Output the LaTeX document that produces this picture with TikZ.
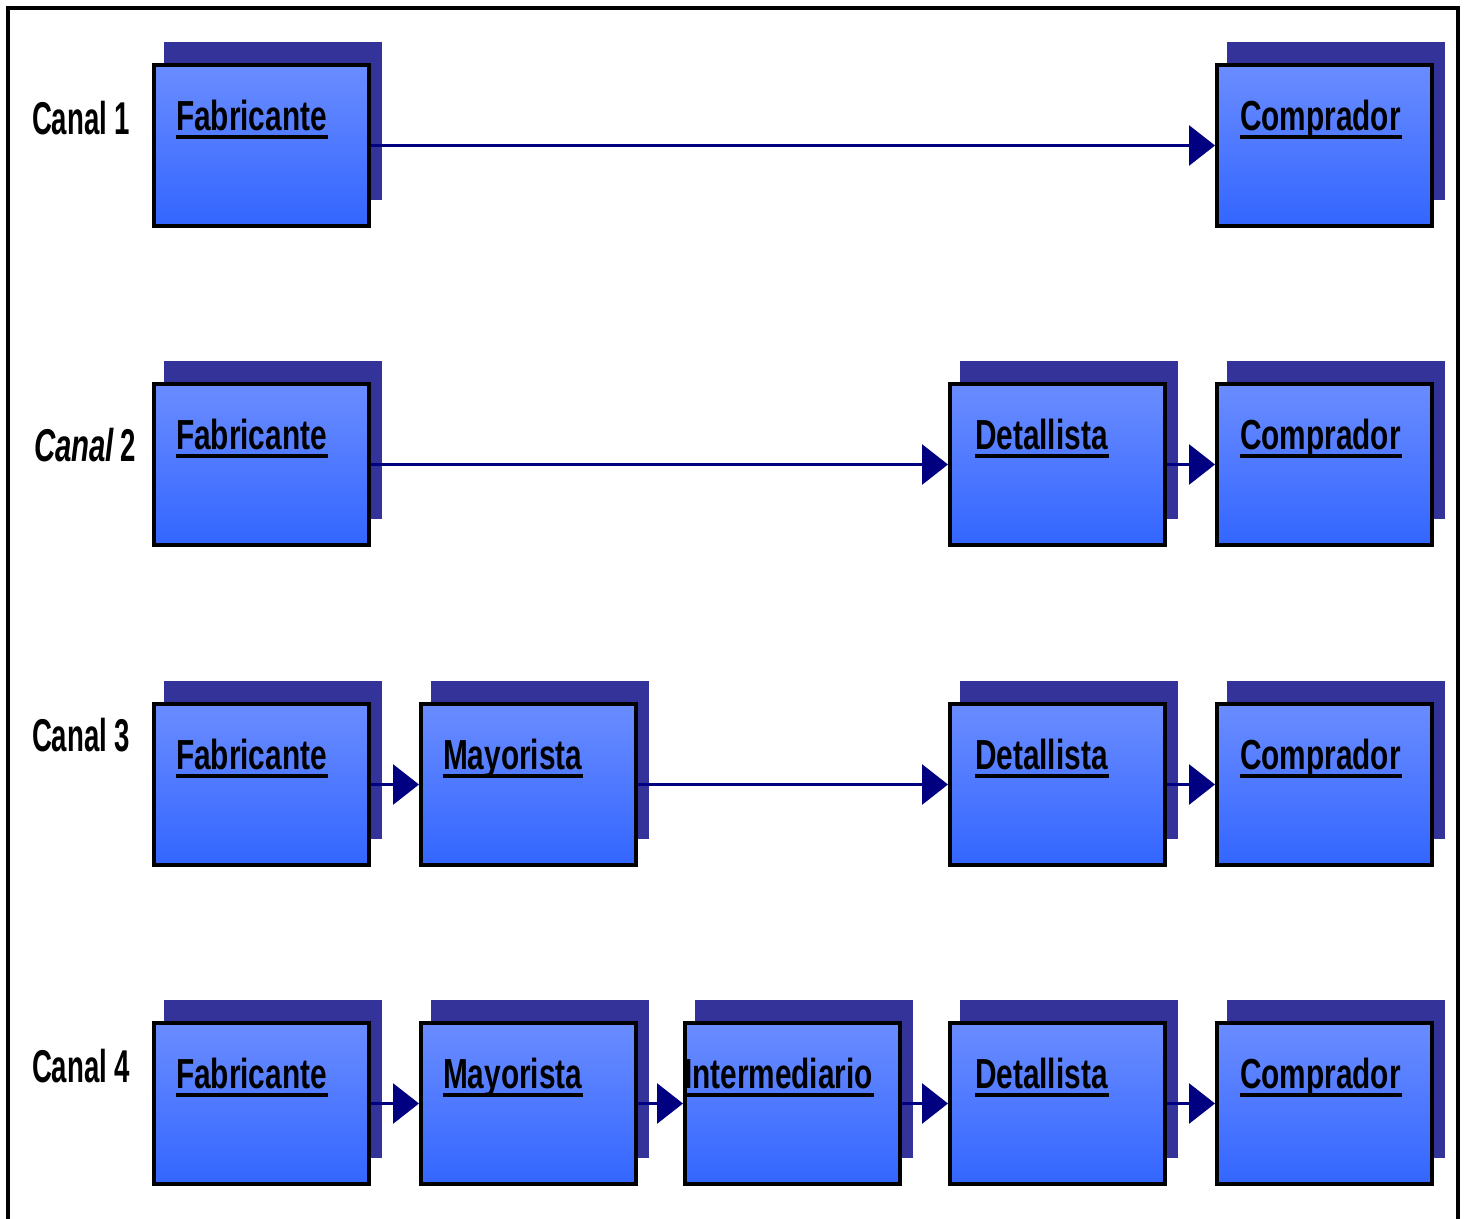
\documentclass[tikz,border=0pt]{standalone}
\usepackage{fontspec}
\usetikzlibrary{arrows.meta}
\newfontfamily\boxfont[FakeStretch=0.71]{Liberation Sans Bold}
\newfontfamily\labfont[FakeStretch=0.60]{Liberation Sans Bold}
\newfontfamily\labitfont[FakeStretch=0.64]{Liberation Sans Bold Italic}
\definecolor{shadowcol}{RGB}{51,51,153}
\definecolor{boxtop}{RGB}{106,140,255}
\definecolor{boxbot}{RGB}{51,102,255}
\definecolor{navyc}{RGB}{0,0,128}
\tikzset{
  frontbox/.style={draw=black, line width=4pt, top color=boxtop, bottom color=boxbot,
    minimum width=215pt, minimum height=161pt, inner sep=0pt},
  boxtext/.style={inner sep=0pt, outer sep=0pt, font=\boxfont\fontsize{42}{48}\selectfont},
  labtext/.style={inner sep=0pt, outer sep=0pt, font=\labfont\fontsize{46}{52}\selectfont},
  conn/.style={draw=navyc, line width=3pt, -{Triangle[length=26pt,width=40pt]}, color=navyc}
}
\newcommand\mkbox[5]{%
  \fill[shadowcol] (#2+12,#3-21) rectangle (#2+230,#3+137);
  \node[frontbox, anchor=north west] (#1) at (#2,#3) {};
  \node[boxtext, anchor=base west] (#1t) at (#2+#4,#3+67) {#5};
  \draw[line width=3.5pt] ([yshift=-7pt]#1t.base west) -- ([yshift=-7pt,xshift=1pt]#1t.base east);
}
\begin{document}
\begin{tikzpicture}[x=1pt,y=-1pt]
\useasboundingbox (0,0) rectangle (1466,1218);
\fill[white] (0,0) rectangle (1466,1218);
\draw[line width=4pt, line join=miter] (8,1220) -- (8,8) -- (1457.5,8) -- (1457.5,1220);
% labels
\node[labtext, anchor=base west] (l1) at (32,134) {Canal 1};
\node[labtext, anchor=base west] (l2) at (34,461) {{\labitfont Canal}\hspace{6pt}2};
\node[labtext, anchor=base west] (l3) at (32,751) {Canal 3};
\node[labtext, anchor=base west] (l4) at (32,1082) {Canal 4};
% row 1
\mkbox{fa}{152}{63}{24}{Fabricante}
\mkbox{ca}{1215}{63}{25}{Comprador}
% row 2
\mkbox{fb}{152}{382}{24}{Fabricante}
\mkbox{db}{948}{382}{27}{Detallista}
\mkbox{cb}{1215}{382}{25}{Comprador}
% row 3
\mkbox{fc}{152}{702}{24}{Fabricante}
\mkbox{mc}{419}{702}{24}{Mayorista}
\mkbox{dc}{948}{702}{27}{Detallista}
\mkbox{cc}{1215}{702}{25}{Comprador}
% row 4
\mkbox{fd}{152}{1021}{24}{Fabricante}
\mkbox{md}{419}{1021}{24}{Mayorista}
\mkbox{id}{683}{1021}{1}{Intermediario}
\mkbox{dd}{948}{1021}{27}{Detallista}
\mkbox{cd}{1215}{1021}{25}{Comprador}
% connectors
\draw[conn] (fa) -- (ca);
\draw[conn] (fb) -- (db);
\draw[conn] (db) -- (cb);
\draw[conn] (fc) -- (mc);
\draw[conn] (mc) -- (dc);
\draw[conn] (dc) -- (cc);
\draw[conn] (fd) -- (md);
\draw[conn] (md) -- (id);
\draw[conn] (id) -- (dd);
\draw[conn] (dd) -- (cd);
\end{tikzpicture}
\end{document}
